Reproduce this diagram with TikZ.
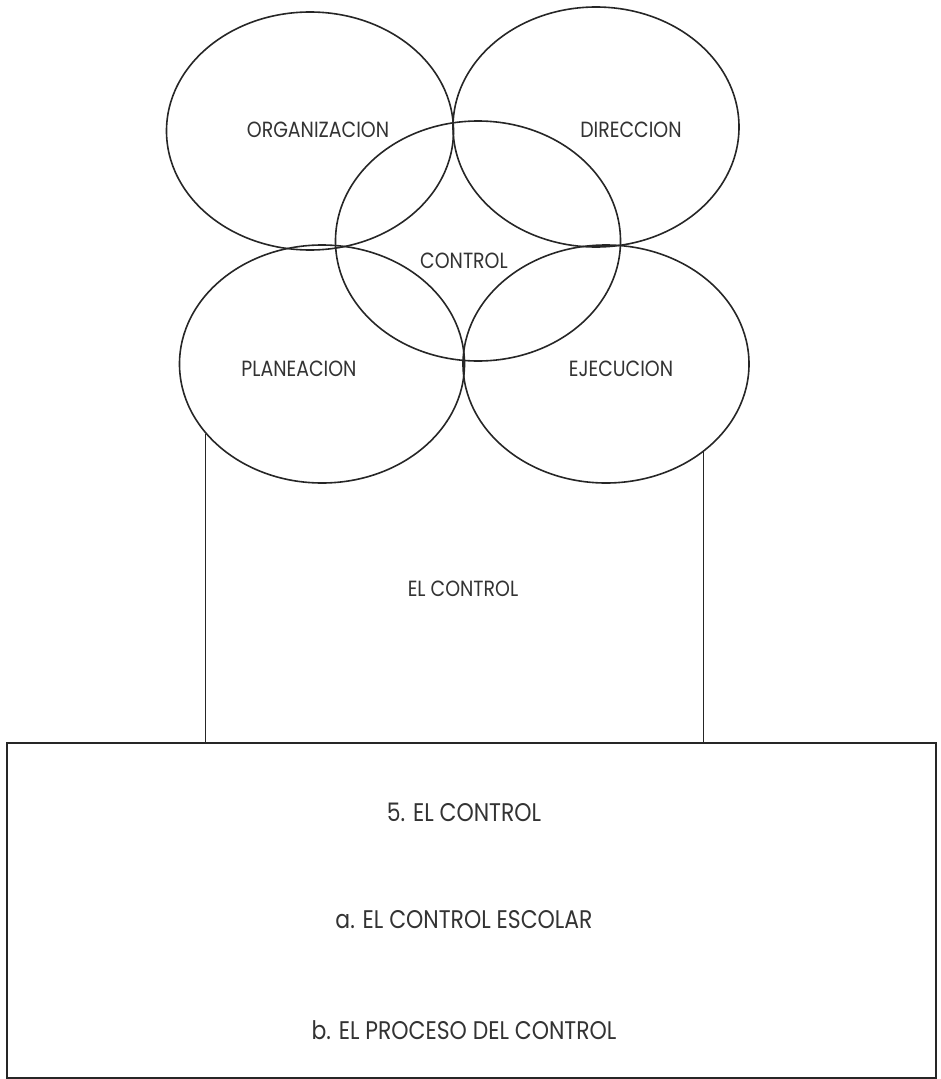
\documentclass[tikz,border=0pt]{standalone}
\usepackage{fontspec}
\setmainfont{Poppins}[FakeStretch=0.86]
\usetikzlibrary{shapes.geometric}
\tikzset{
  ring/.style={draw=black!85, line width=1.6pt, ellipse, inner sep=0pt},
  lbl/.style={text=black!80, font=\fontsize{22}{26}\selectfont, inner sep=0pt},
  big/.style={text=black!80, font=\fontsize{25.5}{30}\selectfont, inner sep=0pt},
  ln/.style={draw=black!85, line width=1.6pt}
}
\begin{document}
\begin{tikzpicture}[x=1pt,y=-1pt]
\useasboundingbox (0,0) rectangle (941,1079);
\node[ring, minimum width=287pt, minimum height=238pt] (org) at (310,131) {};
\node[ring, minimum width=286pt, minimum height=240pt] (dir) at (596,127) {};
\node[ring, minimum width=285pt, minimum height=240pt] (ctl) at (478,241) {};
\node[ring, minimum width=285pt, minimum height=238pt] (pla) at (322,364) {};
\node[ring, minimum width=286pt, minimum height=238pt] (eje) at (606,364) {};
\node[lbl] (torg) at (318,130) {ORGANIZACION};
\node[lbl] (tdir) at (631,130) {DIRECCION};
\node[lbl] (tctl) at (464,261) {CONTROL};
\node[lbl] (tpla) at (299,369) {PLANEACION};
\node[lbl] (teje) at (621,369) {EJECUCION};
\node[ln, draw, minimum width=929pt, minimum height=335pt, anchor=north west, inner sep=0pt] (box) at (6,742) {};
\draw[ln] (pla.211.7) -- (pla.211.7 |- box.north);
\draw[ln] (eje.318.7) -- (eje.318.7 |- box.north);
\node[lbl] (tel) at (463,589) {EL CONTROL};
\node[big] (t5) at (464,812) {5. EL CONTROL};
\node[big] (ta) at (464,920) {a. EL CONTROL ESCOLAR};
\node[big] (tb) at (464,1030) {b. EL PROCESO DEL CONTROL};
\end{tikzpicture}
\end{document}
